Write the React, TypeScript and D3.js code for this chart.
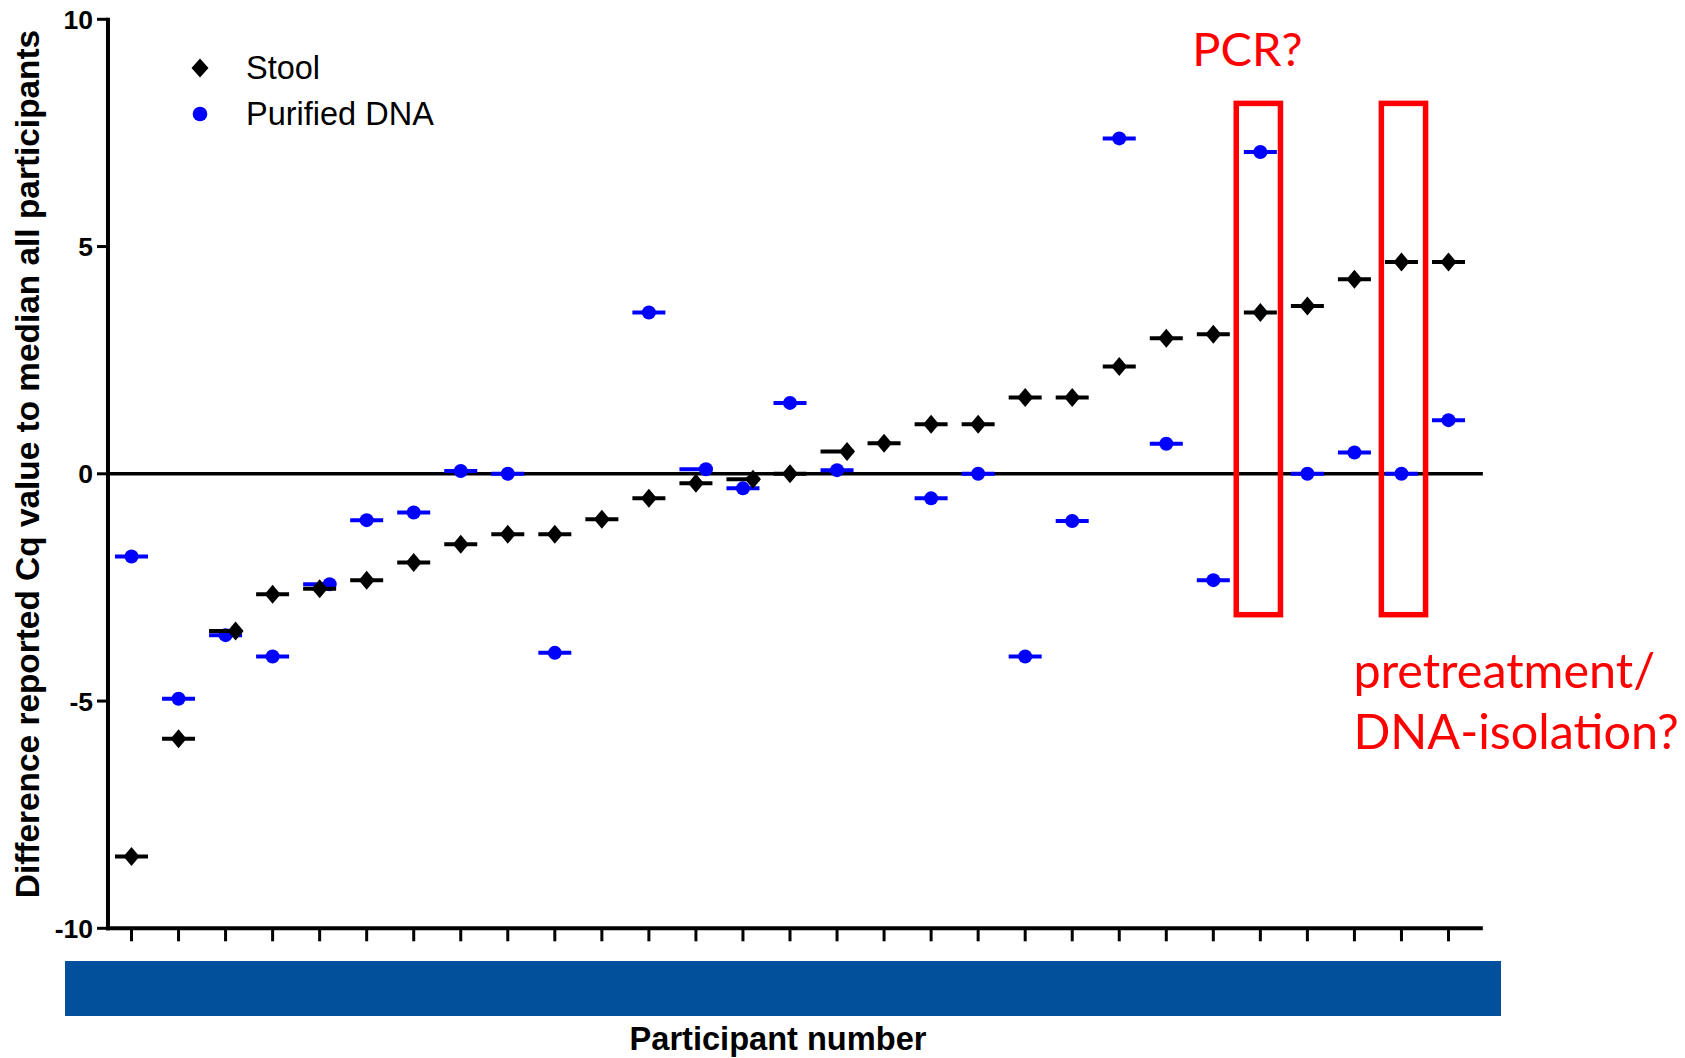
import React from 'react';
import * as d3 from 'd3';

// participant order on the x axis (real numbers are masked in the source)
const participants = [1, 2, 3, 4, 5, 6, 7, 8, 9, 10, 11, 12, 13, 14, 15, 16, 17, 18, 19, 20, 21, 22, 23, 24, 25, 26, 27, 28, 29];

// difference of reported Cq value to the median of all participants
const stool = [
  -8.42, -5.83, -3.46, -2.65, -2.53, -2.34, -1.95, -1.55, -1.33, -1.33,
  -1.0, -0.54, -0.21, -0.12, 0.0, 0.49, 0.67, 1.09, 1.09, 1.68,
  1.68, 2.36, 2.98, 3.07, 3.55, 3.69, 4.28, 4.66, 4.66,
];
const purifiedDna: (number | null)[] = [
  -1.82, -4.95, -3.55, -4.02, -2.43, -1.02, -0.85, 0.06, 0.0, -3.94,
  null, 3.55, 0.1, -0.32, 1.56, 0.08, null, -0.54, 0.0, -4.02,
  -1.04, 7.38, 0.66, -2.34, 7.08, 0.0, 0.47, 0.0, 1.18,
];

const yTicks = [-10, -5, 0, 5, 10];

// red highlight boxes drawn over the figure
const highlights = [
  { participant: 25, lines: ['PCR?'] },
  { participant: 28, lines: ['pretreatment/', 'DNA-isolation?'] },
];
const highlightRange = [-3.1, 8.15];

const W = 1685;
const H = 1058;
const font = '"Liberation Sans", Arial, sans-serif';

function diamondPath(cx: number, cy: number, hw: number, hh: number) {
  const p = d3.path();
  p.moveTo(cx, cy - hh);
  p.lineTo(cx + hw, cy);
  p.lineTo(cx, cy + hh);
  p.lineTo(cx - hw, cy);
  p.closePath();
  return p.toString();
}

export default function App() {
  const x = d3.scaleLinear().domain([1, 29]).range([131.5, 1448.5]);
  const y = d3.scaleLinear().domain([-10, 10]).range([928.3, 19.3]);
  const step = x(2) - x(1);
  const axisLeft = x(0.5);
  const axisRight = x(29.73);
  const halfBar = 16.5;

  // GraphPad shifts the upper point sideways when two points overlap
  const nudge = participants.map((_, i) => {
    const s = stool[i];
    const d = purifiedDna[i];
    if (d === null || Math.abs(s - d) >= 0.45) return { s: 0, d: 0 };
    return s > d ? { s: 10, d: 0 } : { s: 0, d: 10 };
  });

  // hand-drawn boxes are not exactly centred on the columns
  const boxShift = [-2, 2];

  return (
    <svg
      width={W}
      height={H}
      style={{ position: 'absolute', left: 0, top: 0, background: '#fff' }}
    >
      {/* zero line */}
      <line x1={axisLeft} x2={axisRight} y1={y(0)} y2={y(0)} stroke="#000" strokeWidth={3.5} />

      {/* purified DNA */}
      {participants.map((p, i) => {
        const v = purifiedDna[i];
        if (v === null) return null;
        const cx = x(p);
        return (
          <g key={`d${p}`}>
            <line x1={cx - halfBar} x2={cx + halfBar} y1={y(v)} y2={y(v)} stroke="#0000FF" strokeWidth={4} />
            <circle cx={cx + nudge[i].d} cy={y(v)} r={7} fill="#0000FF" />
          </g>
        );
      })}

      {/* stool */}
      {participants.map((p, i) => {
        const v = stool[i];
        const cx = x(p);
        return (
          <g key={`s${p}`}>
            <line x1={cx - halfBar} x2={cx + halfBar} y1={y(v)} y2={y(v)} stroke="#000" strokeWidth={4} />
            <path d={diamondPath(cx + nudge[i].s, y(v), 8, 9.5)} fill="#000" />
          </g>
        );
      })}

      {/* y axis */}
      <line x1={axisLeft} x2={axisLeft} y1={y(10) - 1.5} y2={y(-10) + 2} stroke="#000" strokeWidth={4} />
      {yTicks.map((t) => (
        <g key={t}>
          <line x1={axisLeft - 11} x2={axisLeft} y1={y(t)} y2={y(t)} stroke="#000" strokeWidth={3} />
          <text
            x={axisLeft - 15}
            y={y(t)}
            dy="0.36em"
            textAnchor="end"
            fontFamily={font}
            fontWeight="bold"
            fontSize={26.5}
            fill="#000"
          >
            {t}
          </text>
        </g>
      ))}

      {/* x axis */}
      <line x1={axisLeft - 2} x2={axisRight} y1={y(-10)} y2={y(-10)} stroke="#000" strokeWidth={4} />
      {participants.map((p) => (
        <line key={`t${p}`} x1={x(p)} x2={x(p)} y1={y(-10)} y2={y(-10) + 13} stroke="#000" strokeWidth={3} />
      ))}

      {/* masked participant numbers */}
      <rect x={65} y={961} width={1436} height={55} fill="#02509B" />

      {/* axis titles */}
      <text
        transform={`translate(39, 464) rotate(-90)`}
        textAnchor="middle"
        fontFamily={font}
        fontWeight="bold"
        fontSize={33.4}
        fill="#000"
      >
        Difference reported Cq value to median all participants
      </text>
      <text x={778} y={1050} textAnchor="middle" fontFamily={font} fontWeight="bold" fontSize={32.6} fill="#000">
        Participant number
      </text>

      {/* legend */}
      <path d={diamondPath(200, 68, 8.5, 9.5)} fill="#000" />
      <text x={246} y={79} fontFamily={font} fontSize={32.5} fill="#000">Stool</text>
      <circle cx={200} cy={114} r={7.3} fill="#0000FF" />
      <text x={246} y={125} fontFamily={font} fontSize={32.5} fill="#000">Purified DNA</text>

      {/* highlights */}
      {highlights.map((h, k) => {
        const cx = x(h.participant) + boxShift[k];
        const hw = step * 0.47;
        return (
          <rect
            key={`h${h.participant}`}
            x={cx - hw}
            y={y(highlightRange[1])}
            width={hw * 2}
            height={y(highlightRange[0]) - y(highlightRange[1])}
            fill="none"
            stroke="#FF0000"
            strokeWidth={5.5}
          />
        );
      })}
      <text x={x(25) - 68} y={66} fontFamily="Lato, sans-serif" fontSize={47} fill="#FF0000">
        {highlights[0].lines[0]}
      </text>
      {highlights[1].lines.map((l, k) => (
        <text key={l} x={x(28) - 48} y={688 + k * 61} fontFamily="Lato, sans-serif" fontSize={48.5} fill="#FF0000">
          {l}
        </text>
      ))}
    </svg>
  );
}
